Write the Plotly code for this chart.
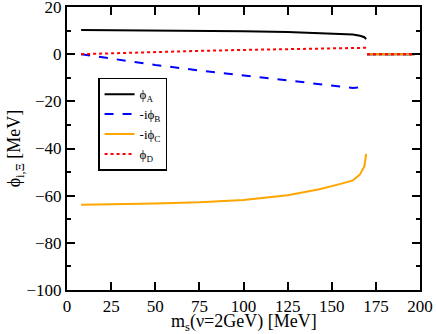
import plotly.graph_objects as go

# m_s values (MeV) for the first phase, then the flat region
ms_lo = [8, 25, 50, 75, 100, 125, 143, 155, 162, 166, 168.5, 169.5]
ms_hi = [170, 197]

phi_a = [10.2, 10.15, 10.0, 9.85, 9.7, 9.4, 9.0, 8.7, 8.3, 7.8, 7.2, 6.4]
phi_b = [0.0, -1.9, -4.6, -6.9, -9.0, -11.0, -12.6, -13.7, -14.3, -14.1, -13.7, -13.2]
phi_c = [-63.8, -63.7, -63.3, -62.8, -61.8, -59.8, -57.3, -55.0, -53.5, -51.0, -47.5, -42.3]
phi_d = [0.0, 0.4, 0.9, 1.4, 1.8, 2.2, 2.45, 2.6, 2.7, 2.7, 2.7, 2.7]
phi_hi = [0.0, 0.0]

series = [
    ("ϕ<sub>A</sub>", phi_a, "black", "solid"),
    ("-iϕ<sub>B</sub>", phi_b, "blue", "dash"),
    ("-iϕ<sub>C</sub>", phi_c, "orange", "solid"),
    ("ϕ<sub>D</sub>", phi_d, "red", "dot"),
]

font = "Liberation Serif"

fig = go.Figure()
for name, vals, color, dash in series:
    fig.add_trace(go.Scatter(x=ms_lo + [None] + ms_hi,
                             y=vals + [None] + phi_hi,
                             mode="lines",
                             name=name,
                             line=dict(color=color, width=2, dash=dash)
    ))

axis_style = dict(showline=True,
                  linecolor="black",
                  linewidth=2,
                  mirror="allticks",
                  ticks="inside",
                  ticklen=8,
                  tickwidth=1.5,
                  tickcolor="black",
                  showgrid=False,
                  zeroline=False,
                  automargin=False,
                  ticklabeloverflow="allow",
                  tickfont=dict(family=font, size=17, color="black"),
)

fig.update_xaxes(range=[0, 200],
                 dtick=25,
                 **axis_style
)
fig.update_yaxes(range=[-100, 20],
                 dtick=20,
                 minor=dict(dtick=10, ticks="inside", ticklen=4, tickcolor="black"),
                 title=dict(text="ϕ<sub>i,Ξ</sub> [MeV]",
                            font=dict(family=font, size=18, color="black")),
                 **axis_style
)

# x title as an annotation so it can sit tight under the tick labels
fig.add_annotation(text="m<sub>s</sub>(ν=2GeV) [MeV]",
                   xref="paper", yref="paper",
                   x=0.5, y=0,
                   xanchor="center", yanchor="top",
                   yshift=-19,
                   showarrow=False,
                   font=dict(family=font, size=18, color="black")
)

fig.update_layout(template="none",
                  width=436,
                  height=334,
                  margin=dict(l=67, r=16, t=7, b=44),
                  plot_bgcolor="white",
                  paper_bgcolor="white",
                  showlegend=True,
                  legend=dict(x=0.088, y=0.75,
                              xanchor="left", yanchor="top",
                              bordercolor="black", borderwidth=1.5,
                              bgcolor="white",
                              font=dict(family=font, size=13, color="black"),
                              tracegroupgap=0,
                              itemwidth=30)
)

# page body has a default 8px margin; drop it so the figure sits at the corner
fig.write_html("out.html",
               config={"displayModeBar": False},
               post_script="document.body.style.margin='0px';")
